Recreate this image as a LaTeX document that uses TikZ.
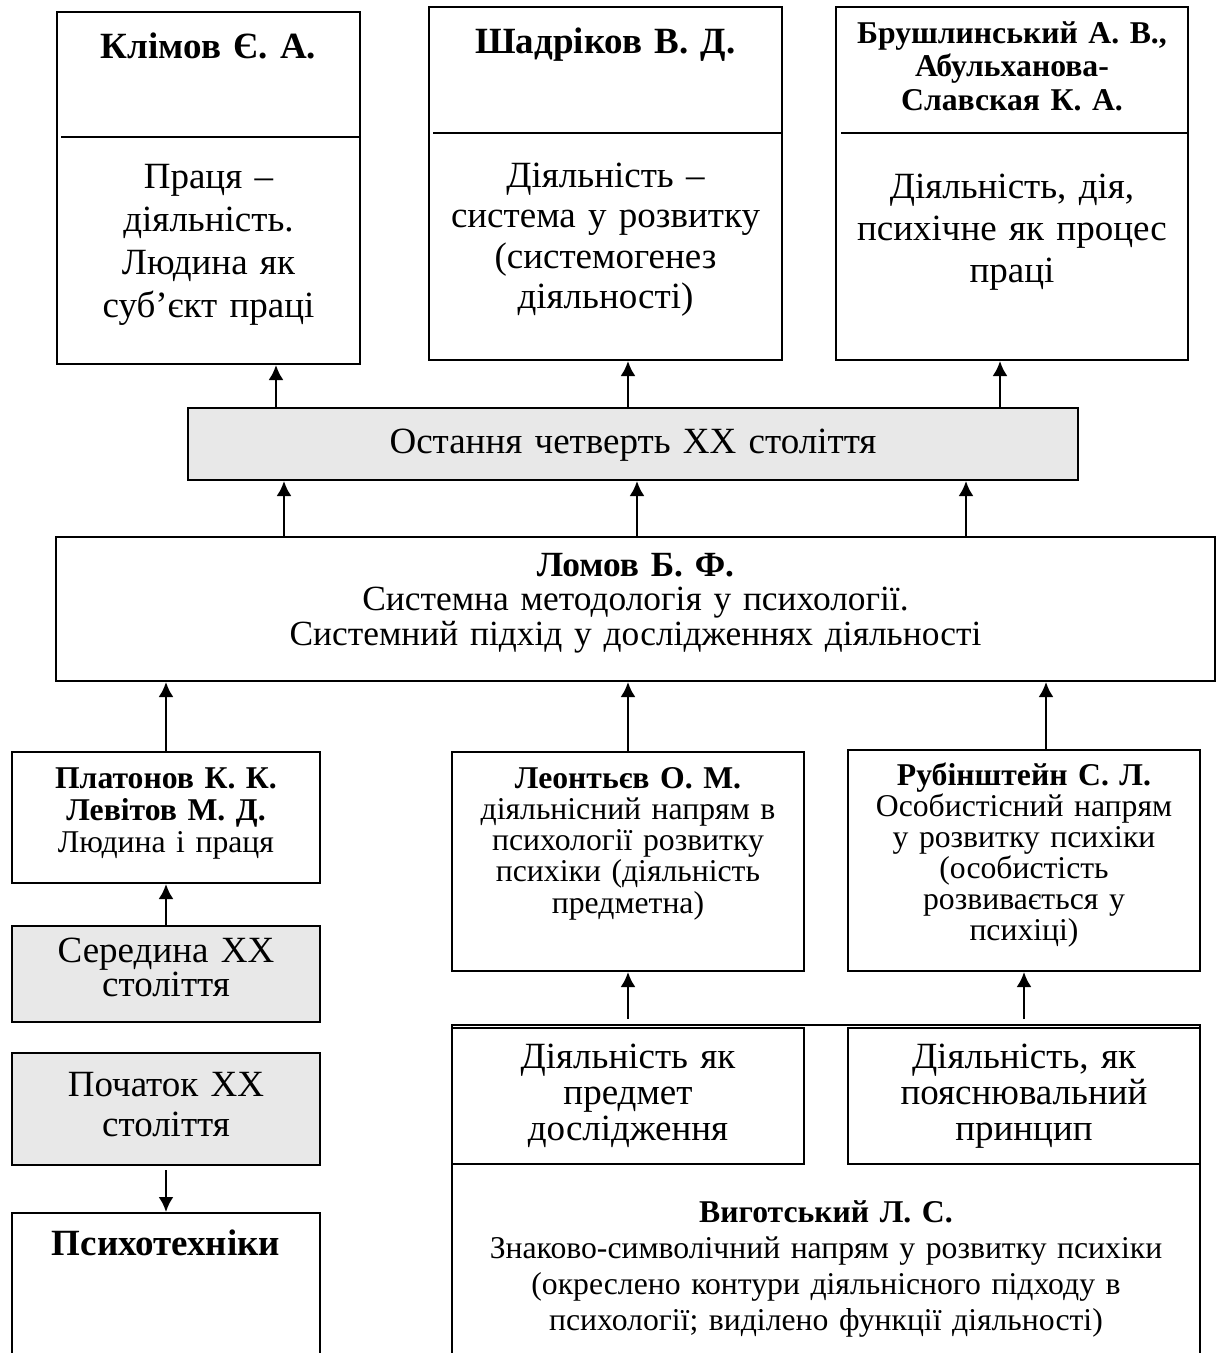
\documentclass[tikz,border=0pt]{standalone}
\usepackage{fontspec}
\setmainfont{Liberation Serif}
\usetikzlibrary{arrows.meta,calc,positioning,fit}
\definecolor{boxgray}{HTML}{E8E8E8}
\newcommand{\fbig}[1]{\fontsize{37}{#1}\selectfont}
\newcommand{\fsmall}[1]{\fontsize{31.7}{#1}\selectfont}

\begin{document}
\begin{tikzpicture}[x=1pt,y=-1pt,>={Latex[length=15pt,width=15pt]},
  box/.style={draw,line width=2pt,inner sep=0pt},
  greybox/.style={box,fill=boxgray},
  txt/.style={anchor=base,align=center,inner sep=0pt,text width=#1},
  txt/.default=290pt,
  arr/.style={->,line width=2.5pt}]
\useasboundingbox (0,0) rectangle (1217,1353);
\clip (0,0) rectangle (1217,1353);
% top row
\node[box,fit={(57,12) (360,364)}] (kl) {};
\node[box,fit={(429,7) (782,360)}] (sh) {};
\node[box,fit={(836,7) (1188,360)}] (br) {};
\draw[line width=2pt] (61,137) -- (kl.east |- 0,137);
\draw[line width=2pt] (433,133) -- (sh.east |- 0,133);
\draw[line width=2pt] (841,133) -- (br.east |- 0,133);
\node[txt,font=\fbig{42}\bfseries] (klh) at (208.5,58) {Клімов Є. А.};
\node[txt,font=\fbig{42}\bfseries,text width=340pt] (shh) at (605.5,53) {Шадріков В. Д.};
\node[txt,font=\fsmall{33.5}\bfseries,text width=340pt] (brh) at (1012,43)
  {Брушлинський А. В.,\\ Абульханова-\\ Славская К. А.};
\node[txt,font=\fbig{43}] (klb) at (208.5,188)
  {Праця –\\ діяльність.\\ Людина як\\ суб’єкт праці};
\node[txt,font=\fbig{40.5},text width=340pt] (shb) at (605.5,187)
  {Діяльність –\\ система у розвитку\\ (системогенез\\ діяльності)};
\node[txt,font=\fbig{42},text width=340pt] (brb) at (1012,198)
  {Діяльність, дія,\\ психічне як процес\\ праці};
% last quarter
\node[greybox,fit={(188,408) (1078,480)}] (q4) {};
\node[txt=850pt,font=\fbig{42}] (q4t) at (633,453) {Остання четверть XX століття};
\draw[arr] (q4.north -| 276,0) -- (kl.south -| 276,0);
\draw[arr] (q4.north -| 628,0) -- (sh.south -| 628,0);
\draw[arr] (q4.north -| 1000,0) -- (br.south -| 1000,0);
% Lomov
\node[box,fit={(56,537) (1215,681)}] (lo) {};
\node[txt=1120pt,font={\fontsize{35.4}{34.5}\selectfont}] (lot) at (635.5,576)
  {\textbf{Ломов Б. Ф.}\\ Системна методологія у психології.\\ Системний підхід у дослідженнях діяльності};
\draw[arr] (lo.north -| 284,0) -- (q4.south -| 284,0);
\draw[arr] (lo.north -| 637,0) -- (q4.south -| 637,0);
\draw[arr] (lo.north -| 966,0) -- (q4.south -| 966,0);
% middle row
\node[box,fit={(12,752) (320,883)}] (pl) {};
\node[txt,font=\fsmall{32}] (plt) at (166,788)
  {\textbf{Платонов К. К.}\\ \textbf{Левітов М. Д.}\\ Людина і праця};
\node[box,fit={(452,752) (804,971)}] (le) {};
\node[txt=340pt,font=\fsmall{31.3}] (let) at (628,788)
  {\textbf{Леонтьєв О. М.}\\ діяльнісний напрям в\\ психології розвитку\\ психіки (діяльність\\ предметна)};
\node[box,fit={(848,750) (1200,971)}] (ru) {};
\node[txt=340pt,font=\fsmall{31}] (rut) at (1024,785)
  {\textbf{Рубінштейн С. Л.}\\ Особистісний напрям\\ у розвитку психіки\\ (особистість\\ розвивається у\\ психіці)};
\draw[arr] (pl.north) -- (pl.north |- lo.south);
\draw[arr] (le.north) -- (le.north |- lo.south);
\draw[arr] (ru.north -| 1046,0) -- (lo.south -| 1046,0);
% left column
\node[greybox,fit={(12,926) (320,1022)}] (mid) {};
\node[txt,font=\fbig{34.4}] (midt) at (166,962) {Середина XX\\ століття};
\node[greybox,fit={(12,1053) (320,1165)}] (beg) {};
\node[txt,font=\fbig{40}] (begt) at (166,1096) {Початок XX\\ століття};
\node[box,fit={(12,1213) (320,1400)}] (ps) {};
\node[txt,font=\fbig{42}\bfseries] (pst) at (166,1255) {Психотехніки};
\draw[arr] (mid.north) -- (pl.south);
\draw[arr] ([yshift=-4pt]beg.south) -- (ps.north);
% Vygotsky
\node[box,fit={(452,1025) (1200,1400)}] (vy) {};
\node[box,fill=white,fit={(452,1028) (804,1164)}] (vl) {};
\node[box,fill=white,fit={(848,1028) (1200,1164)}] (vr) {};
\node[txt=340pt,font=\fbig{36}] (vlt) at (628,1068) {Діяльність як\\ предмет\\ дослідження};
\node[txt=340pt,font=\fbig{36}] (vrt) at (1024,1068) {Діяльність, як\\ пояснювальний\\ принцип};
\node[txt=740pt,font=\fsmall{36}] (vyt) at (826,1222)
  {\textbf{Виготський Л. С.}\\ Знаково-символічний напрям у розвитку психіки\\ (окреслено контури діяльнісного підходу в\\ психології; виділено функції діяльності)};
\draw[arr] ([yshift=8pt]vl.north) -- (le.south);
\draw[arr] ([yshift=8pt]vr.north) -- (ru.south);
\end{tikzpicture}
\end{document}
